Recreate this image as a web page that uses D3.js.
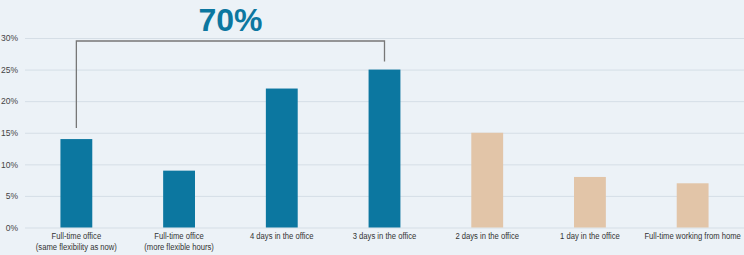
<!DOCTYPE html>
<html>
<head>
<meta charset="utf-8">
<script src="https://cdn.jsdelivr.net/npm/d3@7"></script>
<style>
  body { margin: 0; background: #ecf2f7; }
  svg { display: block; font-family: "Liberation Sans", Arial, sans-serif; }
</style>
</head>
<body>
<div id="main"></div>
<script>
const width = 744;
const height = 255;

// data
const categories = [
  ["Full-time office", "(same flexibility as now)"],
  ["Full-time office", "(more flexible hours)"],
  ["4 days in the office"],
  ["3 days in the office"],
  ["2 days in the office"],
  ["1 day in the office"],
  ["Full-time working from home"]
];
const values = [14, 9, 22, 25, 15, 8, 7];
const groups = ["office", "office", "office", "office", "home", "home", "home"];
const yTicks = [0, 5, 10, 15, 20, 25, 30];
const bracketLabel = "70%";

const colours = { office: "#0c77a0", home: "#e2c5a8" };

const holder = d3.select("#main")
  .append("svg")
  .attr("width", width)
  .attr("height", height);

holder.append("rect")
  .attr("width", width)
  .attr("height", height)
  .attr("fill", "#ecf2f7");

const x = d3.scaleBand()
  .domain(d3.range(categories.length))
  .range([25, 744])
  .paddingInner(0.69)
  .paddingOuter(0.345);

const y = d3.scaleLinear()
  .domain([0, 30])
  .range([227.5, 38]);

// gridlines + tick labels
const yAxis = holder.append("g")
  .attr("transform", "translate(25,0)")
  .call(d3.axisLeft(y).tickValues(yTicks).tickSize(-(width - 25)).tickFormat(d => d + "%"));
yAxis.select(".domain").remove();
yAxis.selectAll(".tick line").attr("stroke", "#d5dee6").attr("stroke-width", 1);
yAxis.selectAll(".tick text")
  .attr("x", -7)
  .attr("fill", "#444")
  .style("font-size", "8.5px")
  .style("font-family", "Liberation Sans, Arial, sans-serif");

// bars
holder.selectAll(".bar")
  .data(values)
  .enter()
  .append("rect")
  .attr("class", "bar")
  .attr("x", (d, i) => x(i))
  .attr("width", x.bandwidth())
  .attr("y", d => y(d))
  .attr("height", d => y(0) - y(d))
  .attr("fill", (d, i) => colours[groups[i]]);

// category labels (squeezed a bit, the original font is narrower)
const labels = holder.selectAll(".cat")
  .data(categories)
  .enter()
  .append("text")
  .attr("class", "cat")
  .attr("transform", (d, i) => "translate(" + (x(i) + x.bandwidth() / 2) + ",0) scale(0.87,1)")
  .attr("text-anchor", "middle")
  .attr("fill", "#333")
  .style("font-size", "8.8px");

labels.selectAll("tspan")
  .data(d => d)
  .enter()
  .append("tspan")
  .attr("x", 0)
  .attr("y", (d, j) => 239.5 + j * 11)
  .text(d => d);

// bracket over the first four bars
const cx0 = x(0) + x.bandwidth() / 2;
const cx3 = x(3) + x.bandwidth() / 2;
const topY = 41;
holder.append("path")
  .attr("d", "M" + cx0 + "," + (y(values[0]) - 11) +
    "V" + topY + "H" + cx3 + "V" + (y(values[3]) - 8))
  .attr("fill", "none")
  .attr("stroke", "#777")
  .attr("stroke-width", 1.3);

holder.append("text")
  .attr("x", (cx0 + cx3) / 2)
  .attr("y", 31)
  .attr("text-anchor", "middle")
  .attr("fill", "#0c77a0")
  .style("font-size", "32px")
  .style("font-weight", "bold")
  .text(bracketLabel);
</script>
</body>
</html>
